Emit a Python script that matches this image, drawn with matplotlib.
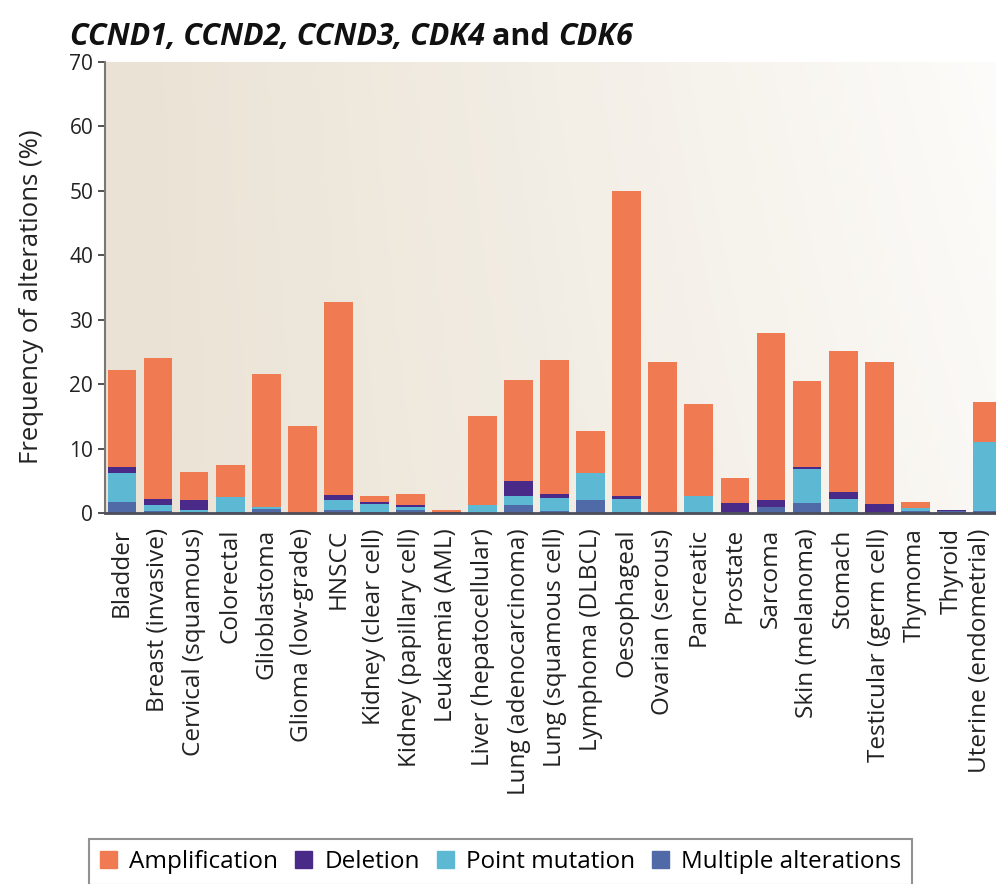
import numpy as np
import matplotlib
matplotlib.use("Agg")
import matplotlib.pyplot as plt
import matplotlib.transforms as mtransforms
from matplotlib.patches import Patch

# data (% of samples)
categories = [
    "Bladder", "Breast (invasive)", "Cervical (squamous)", "Colorectal",
    "Glioblastoma", "Glioma (low-grade)", "HNSCC", "Kidney (clear cell)",
    "Kidney (papillary cell)", "Leukaemia (AML)", "Liver (hepatocellular)",
    "Lung (adenocarcinoma)", "Lung (squamous cell)", "Lymphoma (DLBCL)",
    "Oesophageal", "Ovarian (serous)", "Pancreatic", "Prostate", "Sarcoma",
    "Skin (melanoma)", "Stomach", "Testicular (germ cell)", "Thymoma",
    "Thyroid", "Uterine (endometrial)",
]
multiple = [1.7, 0.3, 0.2, 0.1, 0.6, 0.0, 0.5, 0.1, 0.5, 0.0, 0.0, 1.2, 0.3,
            2.0, 0.2, 0.0, 0.0, 0.2, 0.9, 1.6, 0.2, 0.0, 0.3, 0.3, 0.3]
point = [4.5, 0.9, 0.3, 2.4, 0.4, 0.0, 1.5, 1.3, 0.4, 0.0, 1.3, 1.4, 2.1,
         4.2, 1.9, 0.0, 2.7, 0.0, 0.0, 5.3, 2.0, 0.0, 0.5, 0.0, 10.7]
deletion = [1.0, 0.9, 1.5, 0.0, 0.0, 0.0, 0.8, 0.3, 0.3, 0.1, 0.0, 2.3, 0.6,
            0.0, 0.6, 0.0, 0.0, 1.4, 1.1, 0.3, 1.1, 1.4, 0.0, 0.1, 0.0]
amplification = [15.0, 21.9, 4.3, 4.9, 20.5, 13.5, 29.9, 1.0, 1.7, 0.4, 13.8,
                 15.8, 20.8, 6.5, 47.3, 23.4, 14.2, 3.9, 26.0, 13.3, 21.9,
                 22.1, 0.9, 0.1, 6.3]

c_amp = "#F07A52"
c_del = "#4A2A88"
c_pt = "#5DB9D3"
c_mult = "#4F6AA6"

plt.rcParams["font.family"] = ["Open Sans", "DejaVu Sans"]

fig = plt.figure(figsize=(9.96, 8.84), dpi=100)
ax = fig.add_axes([0.1054, 0.4197, 0.8946, 0.5102])

# beige-to-white background gradient
xg = np.linspace(0, 1, 300)
yg = np.linspace(1, 0, 200)
X, Y = np.meshgrid(xg, yg)
t = np.clip(0.85 * X ** 1.1 + 0.15 * Y * X, 0, 1)[..., None]
c0 = np.array([234, 226, 212]) / 255
c1 = np.array([253, 252, 250]) / 255
img = c0 * (1 - t) + c1 * t
ax.imshow(img, extent=[0, 1, 0, 1], transform=ax.transAxes, aspect="auto",
          zorder=0)

x = np.arange(len(categories))
w = 0.8
b1 = np.array(multiple)
b2 = b1 + np.array(point)
b3 = b2 + np.array(deletion)
ax.bar(x, multiple, w, color=c_mult, zorder=2)
ax.bar(x, point, w, bottom=b1, color=c_pt, zorder=2)
ax.bar(x, deletion, w, bottom=b2, color=c_del, zorder=2)
ax.bar(x, amplification, w, bottom=b3, color=c_amp, zorder=2)

ax.set_xlim(-0.47, 24.24)
ax.set_ylim(0, 70)
ax.set_yticks(range(0, 71, 10))
ax.set_xticks(x)
ax.set_xticklabels(categories, rotation=90, fontsize=17.5, color="#222222")
ax.tick_params(axis="y", labelsize=15, colors="#333333", length=5, width=1.2)
ax.tick_params(axis="x", length=0, pad=11)
for lab in ax.get_yticklabels():
    lab.set_color("#222222")
# last label sits at the figure edge: nudge it left so it stays whole
last = ax.get_xticklabels()[-1]
last.set_transform(last.get_transform() +
                   mtransforms.ScaledTranslation(-5 / 72, 0, fig.dpi_scale_trans))

ax.spines["top"].set_visible(False)
ax.spines["right"].set_visible(False)
ax.spines["left"].set_color("#777777")
ax.spines["left"].set_linewidth(1.5)
ax.spines["bottom"].set_color("#4d4d5a")
ax.spines["bottom"].set_linewidth(2)
ax.set_ylabel("Frequency of alterations (%)", fontsize=18.5, color="#222222")
ax.yaxis.set_label_coords(-0.068, 0.48)

# title: italic gene names, upright "and"
ty = 1 - 37 / 884
t1 = fig.text(0.07, ty, "CCND1, CCND2, CCND3, CDK4 ", fontsize=22,
              fontweight="bold", fontstyle="italic", va="center", ha="left",
              color="#111111")
fig.canvas.draw()
bb = t1.get_window_extent()
t2 = fig.text(bb.x1 / fig.bbox.width, ty, "and ", fontsize=22,
              fontweight="bold", va="center", ha="left", color="#111111")
bb2 = t2.get_window_extent()
fig.text(bb2.x1 / fig.bbox.width, ty, "CDK6", fontsize=22,
         fontweight="bold", fontstyle="italic", va="center", ha="left",
         color="#111111")

handles = [Patch(color=c_amp, label="Amplification"),
           Patch(color=c_del, label="Deletion"),
           Patch(color=c_pt, label="Point mutation"),
           Patch(color=c_mult, label="Multiple alterations")]
leg = fig.legend(handles=handles, loc="upper left",
                 bbox_to_anchor=(89 / 996, 1 - 839 / 884), ncol=4,
                 fontsize=17.5, frameon=True, fancybox=False,
                 handlelength=0.7, handleheight=0.7, handletextpad=0.5,
                 columnspacing=0.7, borderpad=0.45, borderaxespad=0)
leg.get_frame().set_edgecolor("#777777")
leg.get_frame().set_linewidth(1.5)

fig.savefig("out.png", dpi=100)
